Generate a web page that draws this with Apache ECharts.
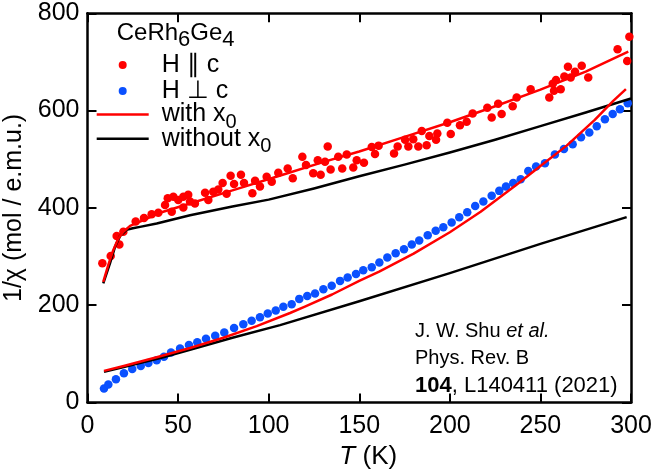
<!DOCTYPE html>
<html><head><meta charset="utf-8">
<script src="https://cdn.jsdelivr.net/npm/echarts@6/dist/echarts.min.js"></script>
<style>html,body{margin:0;padding:0;background:#fff}#c{width:655px;height:473px}</style>
</head><body><div id="c"></div>
<script>
// ---- tick values ----
const xTicks = [0, 50, 100, 150, 200, 250, 300];
const yTicks = [0, 200, 400, 600, 800];

// ---- legend / series names ----
const titleParts = ['CeRh', '6', 'Ge', '4'];
const nameParallel = 'H \u2225 c';
const namePerp = 'H \u22A5 c';
const nameWith = 'with x0';
const nameWithout = 'without x0';

// ---- measured 1/chi, H || c  [T (K), 1/chi] ----
const hParallel = [
  [8.2,286],[12.8,301],[16.1,342],[17.6,325],[19.8,351],[26.6,372],[31.2,379],[35.4,387],[39.1,390],
  [42.8,406],[44.3,420],[46.5,392],[47.4,423],[50.1,416],[52.9,423],[52.9,401],[55.6,427],[56.6,413],
  [59.3,409],[64.9,431],[66.7,416],[69.4,433],[72.2,438],[74.6,451],[76.8,429],[79.0,466],[80.9,449],
  [84.7,468],[86.4,451],[91.0,430],[92.5,456],[95.2,444],[98.9,464],[101.7,454],[105.3,472],[110.5,481],
  [113.3,461],[118.6,505],[120.6,488],[124.6,471],[127.1,498],[128.7,468],[131.1,495],[132.6,526],
  [134.2,479],[138.4,505],[140.6,481],[143.1,510],[146.7,483],[148.6,498],[152.6,493],[156.9,525],
  [158.7,511],[160.7,528],[169.2,512],[171.2,526],[175.3,540],[177.1,526],[179.8,541],[182.6,526],
  [184.5,558],[187.2,529],[188.7,548],[192.4,540],[193.1,553],[198.6,575],[200.5,552],[205.6,570],
  [209.3,577],[212.6,594],[220.7,606],[223.1,586],[226.7,614],[228.6,593],[234.7,609],[236.9,627],
  [244.6,644],[254.9,627],[256.8,655],[257.5,641],[258.6,663],[261.2,644],[263.2,670],[265.2,690],
  [266.7,668],[269.1,680],[272.8,692],[276.4,668],[292.6,726],[297.9,702],[299.1,752]
];

// ---- measured 1/chi, H perp c ----
const hPerp = [
  [9.1,29],[11.5,37],[15.7,48],[20.1,60],[24.7,69],[29.4,75],[33.6,81],[38.2,87],[42.2,94],[46.1,103],
  [51.1,111],[56.0,118],[60.6,124],[65.4,131],[70.5,137],[75.5,144],[80.9,153],[86.0,161],[90.6,168],
  [95.2,175],[99.5,183],[103.9,189],[108.1,197],[112.7,202],[116.9,213],[121.3,219],[125.6,224],
  [130.2,233],[134.8,240],[139.4,250],[143.6,257],[148.2,264],[152.2,272],[156.9,278],[161.1,288],
  [165.5,298],[170.1,307],[174.7,315],[179.0,325],[183.1,333],[187.8,344],[192.2,353],[196.4,360],
  [201.0,370],[205.2,381],[209.6,391],[214.0,404],[218.5,413],[223.1,425],[227.3,435],[231.0,444],
  [235.0,451],[239.1,459],[243.3,476],[247.6,485],[252.5,492],[258.0,510],[263.0,521],[267.8,531],
  [272.4,545],[277.0,555],[281.1,568],[285.6,582],[289.9,593],[293.9,603],[298.2,615]
];

// ---- CEF fits ----
const fitWithPar = [
  [8.7,248],[11.5,283],[14.2,313],[17,337],[19.8,351],[23.5,363],[29,372],[40,390],[56.6,409],
  [80,436],[106,466],[130,494],[150,516],[175,546],[200,576],[225,609],[250,643],[275,680],[298.5,721]
];
const fitWithoutPar = [
  [8.7,245],[12.4,286],[15.2,320],[17.9,342],[21.6,355],[25,358],[29,361],[38.2,368],[56.6,385],[80,403],
  [100,417],[125,440],[150,465],[175,489],[200,514],[225,540],[250,568],[275,596],[300,625]
];
const fitWithPerp = [
  [9.1,65],[20,75],[38.2,93],[56.6,112],[75,133],[93.4,157],[111.8,184],[120,197],[135,222],[150,250],
  [161,269],[180,306],[200,350],[217,392],[237,448],[250,486],[264.5,528],[280,581],[290.2,620],[297.2,644]
];
const fitWithoutPerp = [
  [9.1,63],[20,73],[41.8,93],[60,112],[80,133],[106.3,159],[150,208],[200,266],[216.7,286],
  [250,326],[297.6,381]
];

const FONT = 'Liberation Sans, Arial, sans-serif';
const RED = '#ff0000', BLUE = '#0a50ff', BLACK = '#000000';

function axisCommon() {
  return {
    axisLine: { show: true, onZero: false, lineStyle: { color: BLACK, width: 2.5 } },
    axisTick: { show: true, inside: true, length: 9, lineStyle: { color: BLACK, width: 2 } },
    splitLine: { show: false }
  };
}
const xRange = { type: 'value', min: xTicks[0], max: xTicks[xTicks.length - 1], interval: xTicks[1] - xTicks[0] };
const yRange = { type: 'value', min: yTicks[0], max: yTicks[yTicks.length - 1], interval: yTicks[1] - yTicks[0] };

function lineSeries(name, data, color) {
  return { type: 'line', name, data, smooth: false, symbol: 'none', showSymbol: false,
    lineStyle: { color, width: 2.5, join: 'round' }, itemStyle: { color }, z: 5, silent: true, animation: false };
}
function scatterSeries(name, data, color) {
  return { type: 'scatter', name, data, symbol: 'circle', symbolSize: 8.5,
    itemStyle: { color, opacity: 1 }, z: 3, silent: true, animation: false };
}

const subRich = {
  a: { fontFamily: FONT, fontSize: 25, lineHeight: 25, verticalAlign: 'top', color: BLACK },
  s: { fontFamily: FONT, fontSize: 20, lineHeight: 30, verticalAlign: 'bottom', color: BLACK }
};

const option = {
  animation: false,
  backgroundColor: '#ffffff',
  grid: { left: 87.5, right: 24, top: 13.3, bottom: 70.5, containLabel: false, outerBoundsMode: 'none' },
  xAxis: [
    Object.assign({}, xRange, axisCommon(), {
      position: 'bottom',
      axisLabel: { show: true, fontFamily: FONT, fontSize: 25, color: BLACK, margin: 11 },
      name: '{i|T} (K)', nameLocation: 'middle', nameGap: 35.5,
      nameTextStyle: { fontFamily: FONT, fontSize: 26, color: BLACK, padding: [0, 0, 0, 18],
        rich: { i: { fontFamily: FONT, fontSize: 26, fontStyle: 'italic', color: BLACK } } }
    }),
    Object.assign({}, xRange, axisCommon(), { position: 'top', axisLabel: { show: false } })
  ],
  yAxis: [
    Object.assign({}, yRange, axisCommon(), {
      position: 'left',
      axisLabel: { show: true, fontFamily: FONT, fontSize: 25, color: BLACK, margin: 8 },
      name: '1/\u03C7 (mol / e.m.u.)', nameLocation: 'middle', nameRotate: 90, nameGap: 54.5,
      nameTextStyle: { fontFamily: FONT, fontSize: 25, color: BLACK }
    }),
    Object.assign({}, yRange, axisCommon(), { position: 'right', axisLabel: { show: false } })
  ],
  legend: [
    {
      data: [nameParallel, namePerp], orient: 'vertical', left: 118.7, top: 52.6, padding: 0,
      itemWidth: 52, itemHeight: 8, itemGap: 1, icon: 'circle', selectedMode: false,
      textStyle: { fontFamily: FONT, fontSize: 25, lineHeight: 20, color: BLACK, padding: [0, 0, 0, 8] }
    },
    {
      data: [nameWith, nameWithout], orient: 'vertical', left: 96.7, top: 102, padding: 0,
      itemWidth: 52, itemHeight: 2.5, itemGap: -5.8, icon: 'rect', selectedMode: false,
      formatter: function (n) { return '{a|' + n.slice(0, -1) + '}{s|' + n.slice(-1) + '}'; },
      textStyle: { fontFamily: FONT, fontSize: 25, color: BLACK, padding: [5, 0, 0, 8], rich: subRich }
    }
  ],
  graphic: [
    {
      type: 'text', left: 116.7, top: 21.3, silent: true,
      style: {
        text: '{m|' + titleParts[0] + '}{s|' + titleParts[1] + '}{m|' + titleParts[2] + '}{s|' + titleParts[3] + '}',
        rich: {
          m: { fontFamily: FONT, fontSize: 24, lineHeight: 24, verticalAlign: 'top', fill: BLACK },
          s: { fontFamily: FONT, fontSize: 22, lineHeight: 30, verticalAlign: 'bottom', fill: BLACK }
        }
      }
    },
    {
      type: 'text', left: 415, top: 321.3, silent: true,
      style: { text: '{n|J. W. Shu }{it|et al.}', rich: {
        n: { fontFamily: FONT, fontSize: 20, lineHeight: 20, fill: BLACK },
        it: { fontFamily: FONT, fontSize: 20, lineHeight: 20, fontStyle: 'italic', fill: BLACK } } }
    },
    {
      type: 'text', left: 415, top: 348, silent: true,
      style: { text: 'Phys. Rev. B', fontFamily: FONT, fontSize: 20, lineHeight: 20, fill: BLACK }
    },
    {
      type: 'text', left: 415, top: 375, silent: true,
      style: { text: '{b|104}{n|, L140411 (2021)}', rich: {
        b: { fontFamily: FONT, fontSize: 22, lineHeight: 21, fontWeight: 'bold', fill: BLACK },
        n: { fontFamily: FONT, fontSize: 22, lineHeight: 21, fill: BLACK } } }
    }
  ],
  series: [
    scatterSeries(nameParallel, hParallel, RED),
    scatterSeries(namePerp, hPerp, BLUE),
    lineSeries(nameWithout, fitWithoutPar, BLACK),
    lineSeries(nameWithout, fitWithoutPerp, BLACK),
    lineSeries(nameWith, fitWithPar, RED),
    lineSeries(nameWith, fitWithPerp, RED)
  ]
};

const chart = echarts.init(document.getElementById('c'), null, { renderer: 'canvas' });
chart.setOption(option);
</script>
</body></html>
